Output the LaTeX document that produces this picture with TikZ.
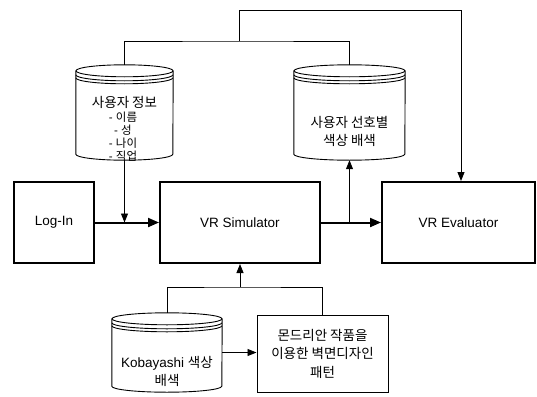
\documentclass[tikz,border=0pt]{standalone}
\usepackage{fontspec}
\setmainfont{Liberation Sans}
\newfontfamily\krfont{Noto Sans CJK KR}
\usetikzlibrary{arrows.meta,calc}

\newcommand{\kr}[1]{{\krfont #1}}
% cylinder outline round a named node, #2 = half width
\newcommand{\dbdraw}[2]{%
	\draw[link] ($(#1.north)+(0,-6pt)$) ellipse [x radius=#2pt, y radius=6pt];
	\draw[link] ($(#1.north west)+(0,-10pt)$) arc [start angle=180, end angle=360, x radius=#2pt, y radius=6pt];
	\draw[link] ($(#1.north west)+(0,-13pt)$) arc [start angle=180, end angle=360, x radius=#2pt, y radius=6pt];
	\draw[link] ($(#1.north west)+(0,-6pt)$) -- ($(#1.south west)+(0,6pt)$)
		arc [start angle=180, end angle=360, x radius=#2pt, y radius=6pt]
		-- ($(#1.north east)+(0,-6pt)$);
}

\tikzset{
	link/.style={line width=0.9pt},
	flow/.style={line width=2pt, -{Triangle[length=11pt, width=9pt]}},
	thinarrow/.style={line width=0.9pt, -{Triangle[length=9pt, width=7pt]}},
	block/.style={draw, line width=2pt, inner sep=0pt, font=\fontsize{13.5}{17}\selectfont},
	plainbox/.style={draw, line width=1pt, inner sep=0pt, align=center, font=\fontsize{13.5}{18.5}\selectfont},
	dbshape/.style={inner sep=0pt},
	label/.style={inner sep=0pt, align=center, font=\fontsize{13.5}{18}\selectfont},
	smalllabel/.style={inner sep=0pt, align=center, font=\fontsize{11.5}{12.8}\selectfont},
}

\begin{document}
\begin{tikzpicture}[x=1pt, y=-1pt]
	\useasboundingbox (0,0) rectangle (537,396);

	% main blocks
	\node[block, minimum width=80pt, minimum height=81pt] (login) at (54,222.5) {Log-In};
	\node[block, minimum width=160pt, minimum height=81pt] (sim) at (240,222.5) {VR Simulator};
	\node[block, minimum width=153pt, minimum height=81pt] (eval) at (458.5,222.5) {VR Evaluator};

	% databases
	\node[dbshape, minimum width=97pt, minimum height=95pt] (info) at (124.5,112.5) {};
	\dbdraw{info}{48.5}
	\node[label] (infotitle) at (124.5,102) {\kr{사용자 정보}};
	\node[smalllabel] (infolist) at (123,136.5) {- \kr{이름}\\- \kr{성}\\- \kr{나이}\\- \kr{직업}};

	\node[dbshape, minimum width=111pt, minimum height=95pt] (pref) at (349.5,112.5) {};
	\dbdraw{pref}{55.5}
	\node[label] (preftext) at (349.5,131) {\kr{사용자 선호별}\\\kr{색상 배색}};

	\node[dbshape, minimum width=110pt, minimum height=79pt] (koba) at (167,352.5) {};
	\dbdraw{koba}{55}
	\node[label] (kobatext) at (167,371) {Kobayashi \kr{색상}\\\kr{배색}};

	\node[plainbox, minimum width=131pt, minimum height=77pt] (pattern) at (322.5,353.5)
		{\kr{몬드리안 작품을}\\\kr{이용한 벽면디자인}\\\kr{패턴}};

	% connectors
	\draw[flow] (login) -- (sim);
	\draw[flow] (sim) -- (eval);
	\draw[thinarrow] (info.south) -- (info.south |- sim.west);
	\draw[thinarrow] (pref.south |- sim.east) -- (pref.south);

	\coordinate (upjoin) at (239,41);
	\coordinate (topright) at (461,10);
	\draw[link] (info.north) |- (upjoin) -| (pref.north);
	\draw[thinarrow] (upjoin) |- (topright) -- (topright |- eval.north);

	\coordinate (lowjoin) at (240,287);
	\draw[link] (koba.north) |- (lowjoin) -| (pattern.north);
	\draw[thinarrow] (lowjoin) -- (sim.south);
	\draw[thinarrow] (koba.east) -- (koba.east -| pattern.west);
\end{tikzpicture}
\end{document}
